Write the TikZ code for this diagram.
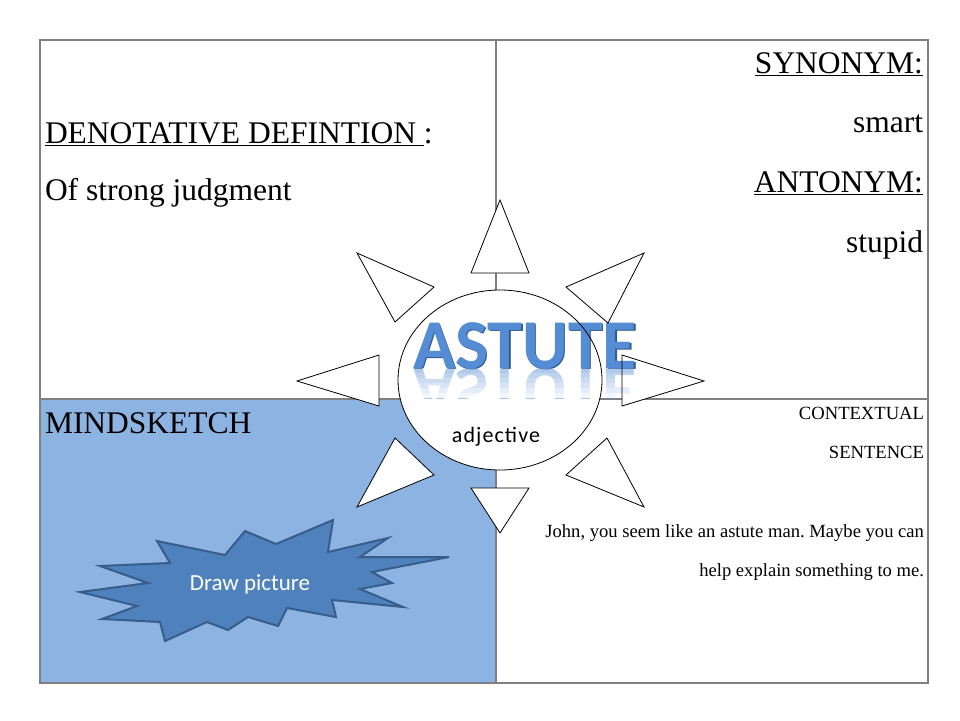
\documentclass[tikz,border=0pt]{standalone}
\usepackage{fontspec}
\setmainfont{Liberation Serif}
\setsansfont{Carlito}
\usetikzlibrary{positioning,calc,shapes.geometric}
\definecolor{gridline}  {RGB}{128,128,128}
\definecolor{sketchfill}{RGB}{141,179,226}
\definecolor{burstfill} {RGB}{ 79,129,189}
\definecolor{burstedge} {RGB}{ 56, 93,138}
\definecolor{wordfill}  {RGB}{ 84,141,212}
\definecolor{wordedge}  {RGB}{ 48, 90,145}
\frenchspacing

\begin{document}
\begin{tikzpicture}[
  x=1pt, y=-1pt,
  every node/.style={inner sep=0pt, outer sep=0pt},
  cellline/.style={draw=gridline, line width=2pt},
  bigtext/.style={font=\fontsize{31.5}{36}\selectfont},
  smalltext/.style={font=\fontsize{18.6}{22}\selectfont},
  quotetext/.style={font=\fontsize{18.6}{22}\selectfont},
  ray/.style={draw=black, line width=0.8pt, line join=miter},
  hub/.style={ellipse, fill=white, minimum width=204pt, minimum height=180pt},
  burst/.style={fill=burstfill, draw=burstedge, line width=2pt, line join=miter},
  word/.style={font=\sffamily\bfseries\fontsize{70}{70}\selectfont, text=wordfill},
  poslabel/.style={font=\sffamily\fontsize{22}{24}\selectfont\addfontfeature{LetterSpace=5}},
  burstlabel/.style={font=\sffamily\fontsize{23}{26}\selectfont, text=white}
]
\useasboundingbox (0,0) rectangle (960,720);
\fill[white] (0,0) rectangle (960,720);

% =========================================================
% FOUR-CELL FRAME
% =========================================================
\coordinate (nw)  at (40,40);
\coordinate (se)  at (928,683);
\coordinate (mid) at (496,399);

\fill[sketchfill] (nw |- mid) rectangle (se -| mid);
\draw[cellline] (nw) rectangle (se);
\draw[cellline] (nw -| mid) -- (se -| mid);
\draw[cellline] (nw |- mid) -- (se |- mid);

% =========================================================
% CELL TEXTS
% =========================================================
\node[bigtext, anchor=base west] (denot) at (45,143) {\underline{DENOTATIVE DEFINTION\ }:};
\node[bigtext, anchor=base west] (defn)  at (45,200) {Of strong judgment};

\node[bigtext, anchor=base east] (syn)   at (923,73)  {\underline{SYNONYM:}};
\node[bigtext, anchor=base east] (synw)  at (923,132) {smart};
\node[bigtext, anchor=base east] (ant)   at (923,192) {\underline{ANTONYM:}};
\node[bigtext, anchor=base east] (antw)  at (923,252) {stupid};

\node[bigtext, anchor=base west] (mind)  at (45,433) {MINDSKETCH};

\node[smalltext, anchor=base east] (ctx)    at (924,419) {CONTEXTUAL};
\node[smalltext, anchor=base east] (sent)   at (924,458) {SENTENCE};
\node[quotetext, anchor=base east] (quoteA) at (924,537) {John, you seem like an astute man. Maybe you can};
\node[quotetext, anchor=base east] (quoteB) at (924,576) {help explain something to me.};

% =========================================================
% STARBURST (mindsketch cell)
% =========================================================
\draw[burst] (80,592) -- (148,583) -- (100,566) -- (170,563) -- (157,541)
  -- (225,555) -- (245,531) -- (276,544) -- (333,520) -- (328,552)
  -- (388,538) -- (360,557) -- (449,557) -- (372,572) -- (392,583)
  -- (360,589) -- (403,607) -- (332,600) -- (336,617) -- (287,608)
  -- (278,626) -- (248,617) -- (228,630) -- (207,622) -- (165,641)
  -- (160,622) -- (102,619) -- (137,606) -- cycle;
\node[burstlabel, anchor=base] (drawpic) at (250,590) {Draw picture};

% =========================================================
% SUN: rays + hub (fills first, outlines after the word art)
% =========================================================
\newcommand{\raylist}{500/200/471/273/529/273, 500/533/471/488/529/488,
  297/381/379/355/379/406, 704/381/622/355/622/406,
  357/253/434/287/395/322, 644/253/566/287/608/323,
  357/507/434/475/395/438, 644/507/566/475/607/438}

\foreach \ax/\ay/\bx/\by/\cx/\cy in \raylist
  \fill[white] (\ax,\ay) -- (\bx,\by) -- (\cx,\cy) -- cycle;
\node[hub] (hub) at (500,380) {};

% word art with its reflection
\node[word, text=wordedge, anchor=base] (astuteshade) at (526.2,369.4) {ASTUTE};
\node[word, anchor=base] (astute) at (525,368) {ASTUTE};
\begin{scope}
  \clip (405,368) rectangle (645,398);
  \node[word, anchor=base, yscale=-1, opacity=0.5] (astutemirror) at (525,368) {ASTUTE};
\end{scope}
\foreach \k [evaluate=\k as \op using 0.1+0.15*\k] in {0,...,5}
  \fill[white, opacity=\op] (405,{368+5*\k}) rectangle (645,{373+5*\k});

\foreach \ax/\ay/\bx/\by/\cx/\cy in \raylist
  \draw[ray] (\ax,\ay) -- (\bx,\by) -- (\cx,\cy) -- cycle;
\draw[ray] (hub.center) ellipse [x radius=102, y radius=90];

\node[poslabel, anchor=base] (pos) at (496,442) {adjective};

\end{tikzpicture}
\end{document}
